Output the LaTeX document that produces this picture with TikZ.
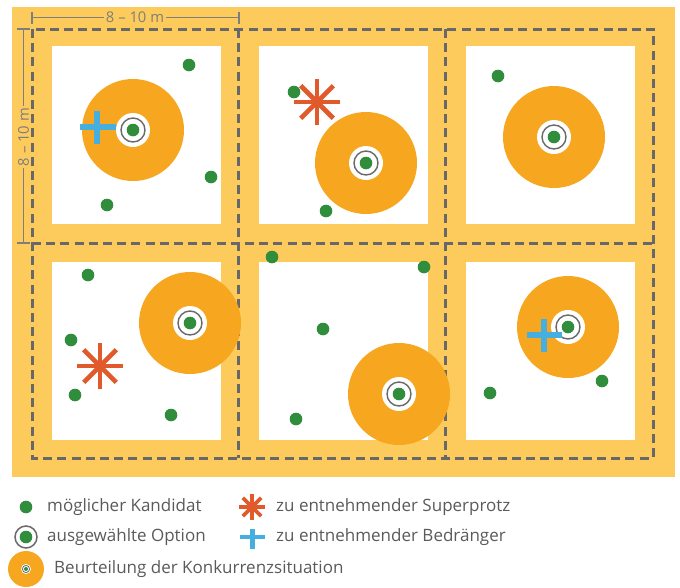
\documentclass[tikz,border=0pt]{standalone}
\usepackage{fontspec}
\setmainfont{Open Sans}
\definecolor{ybg}{HTML}{FDCB5C}
\definecolor{orng}{HTML}{F6A61F}
\definecolor{grn}{HTML}{2F8D3C}
\definecolor{dgray}{HTML}{686868}
\definecolor{ringc}{HTML}{6A6A6A}
\definecolor{bluec}{HTML}{47AEE0}
\definecolor{redc}{HTML}{E05A2B}
\definecolor{txtc}{HTML}{5A5A5A}
\definecolor{dimc}{HTML}{7E7E7E}
\tikzset{
  gridline/.style={draw=dgray, line width=3pt, dash pattern=on 9pt off 5.2pt},
  dimline/.style={draw=dimc, line width=1.1pt},
  dimtext/.style={text=dimc, font=\fontsize{14.8}{16}\selectfont, fill=ybg, inner sep=2pt},
  cand/.style={circle, fill=grn, inner sep=0pt, minimum size=12.6pt},
  legtext/.style={text=txtc, font=\fontsize{17}{20}\selectfont, anchor=west, inner sep=0pt},
  crossline/.style={draw=bluec, line width=5.2pt},
}
\newcommand\selOpt[2]{%
  \fill[orng] (#1,#2) circle[radius=51pt];
  \fill[white] (#1,#2) circle[radius=17pt];
  \draw[ringc, line width=1.4pt] (#1,#2) circle[radius=12pt];
  \fill[grn] (#1,#2) circle[radius=6.3pt];}
\newcommand\starMark[4]{% x y radius width
  \foreach \ang in {0,45,90,135}{
    \draw[draw=redc, line width=#4] ($(#1,#2)+(\ang:#3)$) -- ($(#1,#2)+(\ang+180:#3)$);}}
\usetikzlibrary{calc}
\begin{document}
\begin{tikzpicture}[x=1pt,y=-1pt]
\useasboundingbox (0,0) rectangle (680,587);
\fill[ybg] (12,7) rectangle (675,477);
% white plots
\foreach \xx in {52,259,466}{
  \foreach \yy in {46,262}{
    \fill[white] (\xx,\yy) rectangle ++(169,177.5);
  }}
% dashed grid
\draw[gridline] (32,29) rectangle (653,458);
\draw[gridline] (238,29) -- (238,458);
\draw[gridline] (445,29) -- (445,458);
\draw[gridline] (32,243) -- (653,243);
% dimension lines
\coordinate (h1) at (32,17.5);
\coordinate (h2) at (239,17.5);
\draw[dimline] (h1) -- (h2);
\draw[dimline] (32,11.5) -- (32,24);
\draw[dimline] (239,11.5) -- (239,24);
\node[dimtext] (hdim) at (135,17.5) {8 – 10 m};
\coordinate (v1) at (23.5,29);
\coordinate (v2) at (23.5,243);
\draw[dimline] (v1) -- (v2);
\draw[dimline] (17,29) -- (30,29);
\draw[dimline] (17,243) -- (30,243);
\node[dimtext, rotate=90] (vdim) at (23.5,137) {8 – 10 m};
% selected options
\selOpt{133}{130}
\selOpt{366}{163}
\selOpt{554}{137}
\selOpt{190}{323}
\selOpt{399}{394}
\selOpt{568}{327}
% superprotz stars
\starMark{317}{102}{23pt}{4.6pt}
\starMark{100}{366}{23pt}{4.6pt}
% candidates
\node[cand] (a1) at (189,65) {};
\node[cand] (a2) at (211,177) {};
\node[cand] (a3) at (107,205) {};
\node[cand] (b1) at (294,92) {};
\node[cand] (b2) at (326,211) {};
\node[cand] (c1) at (498,76) {};
\node[cand] (d1) at (88,275) {};
\node[cand] (d2) at (71,340) {};
\node[cand] (d3) at (75,395) {};
\node[cand] (d4) at (171,415) {};
\node[cand] (e1) at (272,257) {};
\node[cand] (e2) at (424,267) {};
\node[cand] (e3) at (323,329) {};
\node[cand] (e4) at (296,419) {};
\node[cand] (f1) at (490,393) {};
\node[cand] (f2) at (602,381) {};
% competitor crosses
\draw[crossline] (80,127) -- (116,127);
\draw[crossline] (97,111) -- (97,144);
\draw[crossline] (527,335) -- (562,335);
\draw[crossline] (544,319) -- (544,352);
% legend
\node[cand] (lg1) at (26,507) {};
\node[legtext] (lt1) at (47,507) {möglicher Kandidat};
\draw[ringc, line width=1.5pt] (26,537) circle[radius=11pt];
\node[cand] (lg2) at (26,537) {};
\node[legtext] (lt2) at (47,537) {ausgewählte Option};
\fill[orng] (26,569) circle[radius=18pt];
\fill[white] (26,569) circle[radius=5pt];
\draw[ringc, line width=0.8pt] (26,569) circle[radius=3.6pt];
\fill[grn] (26,569) circle[radius=2pt];
\node[legtext] (lt3) at (54,569) {Beurteilung der Konkurrenzsituation};
\starMark{252}{507}{13pt}{3.6pt}
\node[legtext] (lt4) at (276,507) {zu entnehmender Superprotz};
\draw[draw=bluec, line width=4.2pt] (240,537) -- (265,537);
\draw[draw=bluec, line width=4.2pt] (252.5,529) -- (252.5,549);
\node[legtext] (lt5) at (276,537) {zu entnehmender Bedränger};
\end{tikzpicture}
\end{document}
